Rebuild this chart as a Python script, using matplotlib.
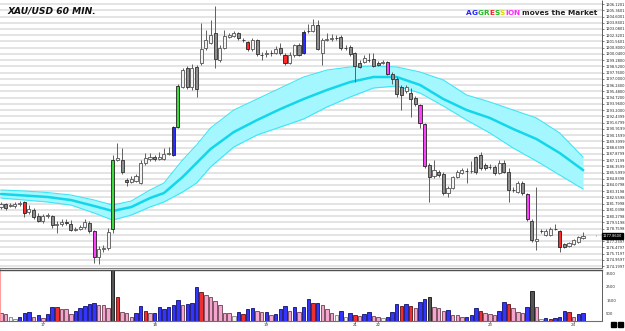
import numpy as np
import matplotlib.pyplot as plt

# hourly XAU/USD candles (open, close, high, low)
opens = [1181.40, 1181.76, 1181.52, 1181.52, 1181.76, 1182.01, 1180.79, 1181.03, 1180.30, 1179.69,
         1180.30, 1180.30, 1179.21, 1179.33, 1179.57, 1179.33, 1178.60, 1178.72, 1178.96, 1179.45,
         1178.47, 1175.31, 1176.28, 1176.40, 1178.72, 1187.12, 1187.12, 1184.69, 1184.44, 1184.56,
         1184.32, 1186.76, 1187.24, 1187.49, 1187.24, 1187.24, 1187.85, 1187.73, 1191.14, 1196.01,
         1198.33, 1196.01, 1198.45, 1198.94, 1200.76, 1201.37, 1202.59, 1199.30, 1200.76, 1202.10,
         1202.22, 1202.59, 1201.74, 1201.49, 1200.64, 1201.74, 1199.91, 1200.03, 1200.15, 1200.15,
         1200.76, 1199.91, 1198.94, 1199.91, 1201.13, 1200.15, 1202.83, 1202.83, 1203.56, 1200.15,
         1201.74, 1201.86, 1201.98, 1202.10, 1200.76, 1200.88, 1200.15, 1198.94, 1199.06, 1199.30,
         1199.42, 1198.94, 1198.94, 1199.06, 1197.60, 1196.99, 1196.01, 1195.53, 1195.28, 1194.67,
         1193.82, 1191.51, 1186.51, 1185.17, 1185.66, 1185.42, 1183.10, 1183.71, 1185.05, 1185.54,
         1185.78, 1185.78, 1187.49, 1187.73, 1186.51, 1186.27, 1186.27, 1185.54, 1186.76, 1185.66,
         1183.47, 1183.22, 1184.32, 1182.98, 1179.69, 1177.26, 1178.47, 1177.99, 1177.99, 1178.72,
         1178.47, 1176.89, 1176.65, 1176.89, 1177.13, 1177.62]
closes = [1181.76, 1181.28, 1181.64, 1181.76, 1181.89, 1180.67, 1181.15, 1180.18, 1179.69, 1180.30,
          1180.42, 1179.21, 1179.33, 1179.57, 1179.45, 1178.60, 1178.72, 1178.96, 1179.57, 1178.47,
          1175.31, 1176.28, 1176.40, 1178.35, 1187.12, 1187.37, 1185.66, 1184.44, 1184.81, 1185.17,
          1186.76, 1187.37, 1187.49, 1187.24, 1187.49, 1187.85, 1187.97, 1191.14, 1196.13, 1198.08,
          1196.01, 1198.33, 1195.77, 1200.64, 1201.74, 1202.35, 1199.42, 1200.76, 1202.22, 1202.35,
          1202.59, 1201.98, 1201.70, 1200.64, 1201.74, 1200.03, 1199.87, 1200.15, 1200.13, 1200.64,
          1200.15, 1198.94, 1199.91, 1201.13, 1199.91, 1202.71, 1202.81, 1203.56, 1200.64, 1201.74,
          1201.86, 1201.98, 1201.96, 1200.76, 1200.74, 1200.03, 1198.57, 1198.45, 1199.55, 1199.28,
          1198.57, 1198.69, 1199.06, 1197.60, 1196.99, 1195.16, 1195.04, 1196.01, 1194.55, 1193.94,
          1191.63, 1186.39, 1185.05, 1185.90, 1185.29, 1183.10, 1183.71, 1185.05, 1185.66, 1185.90,
          1185.76, 1185.80, 1185.66, 1186.15, 1186.15, 1186.25, 1185.54, 1186.76, 1185.66, 1183.47,
          1183.45, 1184.32, 1183.10, 1179.94, 1177.38, 1177.50, 1178.45, 1178.47, 1178.72, 1178.70,
          1176.52, 1176.52, 1177.01, 1177.38, 1177.74, 1177.86]
highs = [1182.01, 1181.89, 1181.89, 1182.01, 1182.13, 1182.13, 1181.64, 1181.28, 1180.67, 1180.55,
         1180.67, 1180.42, 1179.69, 1179.94, 1179.94, 1179.81, 1178.96, 1179.21, 1179.94, 1179.69,
         1178.60, 1176.65, 1176.77, 1178.84, 1187.73, 1189.19, 1188.58, 1184.93, 1185.17, 1185.42,
         1187.12, 1187.97, 1187.97, 1187.73, 1188.10, 1188.58, 1188.71, 1191.26, 1196.38, 1198.33,
         1198.57, 1198.81, 1198.69, 1203.81, 1202.96, 1204.17, 1205.88, 1201.13, 1202.96, 1202.59,
         1202.83, 1202.71, 1201.98, 1201.62, 1201.98, 1201.86, 1200.28, 1200.52, 1200.52, 1201.01,
         1201.37, 1200.15, 1200.28, 1201.25, 1201.37, 1202.96, 1203.69, 1204.30, 1204.17, 1201.98,
         1202.59, 1202.47, 1202.35, 1202.35, 1201.13, 1201.13, 1200.28, 1199.30, 1199.91, 1200.15,
         1200.15, 1199.18, 1199.30, 1199.18, 1197.84, 1197.23, 1196.26, 1196.26, 1195.89, 1194.92,
         1193.94, 1191.63, 1186.76, 1187.12, 1185.90, 1185.66, 1183.96, 1185.17, 1185.90, 1186.15,
         1186.15, 1187.00, 1187.61, 1188.10, 1186.76, 1186.63, 1186.51, 1187.12, 1187.12, 1186.15,
         1183.83, 1184.56, 1184.56, 1183.10, 1179.94, 1183.83, 1178.72, 1178.72, 1178.96, 1179.33,
         1178.60, 1177.01, 1177.13, 1177.50, 1177.86, 1178.35]
lows = [1181.15, 1181.03, 1181.40, 1181.28, 1181.52, 1180.18, 1180.55, 1179.94, 1179.57, 1179.45,
        1180.06, 1178.84, 1178.23, 1179.08, 1179.21, 1178.47, 1178.47, 1178.60, 1178.72, 1178.23,
        1174.58, 1174.46, 1175.92, 1176.16, 1178.23, 1187.00, 1185.42, 1183.96, 1184.32, 1184.44,
        1184.20, 1186.51, 1187.00, 1187.00, 1187.12, 1187.12, 1187.73, 1187.61, 1191.02, 1195.89,
        1195.77, 1195.65, 1194.80, 1198.69, 1200.52, 1201.25, 1198.33, 1199.06, 1200.64, 1201.98,
        1202.10, 1201.74, 1201.49, 1200.40, 1200.40, 1199.79, 1199.30, 1199.67, 1199.79, 1200.03,
        1199.91, 1198.69, 1198.81, 1199.67, 1199.79, 1200.03, 1202.59, 1202.71, 1200.52, 1198.69,
        1201.62, 1201.62, 1201.74, 1200.52, 1200.52, 1199.79, 1196.62, 1198.33, 1198.94, 1199.06,
        1198.45, 1198.57, 1198.81, 1197.48, 1196.38, 1194.80, 1193.21, 1195.28, 1192.36, 1193.70,
        1191.02, 1186.15, 1182.01, 1184.93, 1185.05, 1182.86, 1182.62, 1183.59, 1184.93, 1185.42,
        1184.32, 1185.54, 1185.42, 1185.90, 1185.90, 1186.03, 1185.29, 1185.42, 1185.54, 1182.01,
        1183.22, 1183.10, 1182.86, 1179.69, 1177.13, 1176.16, 1178.23, 1177.86, 1177.86, 1178.60,
        1175.92, 1176.40, 1176.52, 1176.77, 1177.01, 1177.50]

# "aggression" candles painted in colour
special = {5: 'r', 20: 'm', 24: 'g', 37: 'b', 38: 'g', 53: 'r', 61: 'r', 65: 'b',
           83: 'm', 90: 'm', 91: 'm', 113: 'm', 120: 'r'}

volume = [525, 450, 230, 130, 230, 525, 650, 280, 380, 155,
          450, 970, 970, 825, 825, 450, 720, 900, 1050, 1220,
          1270, 1120, 1120, 900, 3800, 1715, 650, 525, 230, 525,
          1070, 720, 525, 525, 970, 850, 970, 1145, 1515, 1145,
          1195, 1270, 2460, 2135, 1890, 1715, 1465, 1145, 525, 525,
          330, 600, 475, 870, 945, 700, 600, 600, 400, 475,
          825, 1070, 720, 970, 600, 1020, 1570, 1315, 1315, 1120,
          870, 575, 380, 700, 230, 575, 400, 350, 475, 600,
          350, 280, 200, 280, 600, 1220, 1095, 1220, 1095, 945,
          1390, 1590, 1760, 970, 900, 700, 775, 400, 380, 230,
          230, 400, 900, 720, 525, 450, 400, 675, 1345, 1240,
          900, 600, 525, 1020, 2210, 970, 100, 150, 130, 200,
          280, 700, 600, 280, 450, 525]
vol_col = ("ppwwbbbpbp" "bbrpppbbbb" "bpppkrpppb" "brpbbbbbbp" "bbbrpppppp"
           "wbrbbppbpb" "bbpbpbbrbp" "ppwbwbrpbb" "ppwbbbrbrp" "bbkpppbppp"
           "bbbrpppbbr" "pppbkpwbrb" "bbrpbb")

# moving average band (sampled every few bars)
band_idx = [0, 5, 10, 15, 20, 24, 28, 32, 35, 39, 42, 45, 50, 55, 60, 65, 70, 75, 80, 85,
            90, 95, 100, 105, 110, 115, 120, 125]
band_up = [1183.47, 1183.35, 1183.16, 1182.86, 1182.25, 1181.64, 1182.13, 1183.47, 1184.32, 1187.12,
           1188.95, 1191.02, 1193.21, 1194.55, 1195.89, 1197.23, 1198.08, 1198.45, 1198.57, 1198.45,
           1197.84, 1196.87, 1195.04, 1194.19, 1193.21, 1192.24, 1190.41, 1187.49]
band_mid = [1182.98, 1182.80, 1182.62, 1182.25, 1181.52, 1180.91, 1181.40, 1182.49, 1183.10, 1185.05,
            1186.76, 1188.46, 1190.53, 1191.99, 1193.33, 1194.55, 1195.65, 1196.62, 1197.23, 1197.23,
            1196.26, 1194.55, 1193.21, 1192.24, 1190.90, 1189.68, 1187.97, 1185.90]
band_lo = [1182.49, 1182.25, 1182.01, 1181.64, 1180.67, 1179.81, 1180.42, 1181.40, 1182.01, 1183.22,
           1184.32, 1186.27, 1188.71, 1190.17, 1191.14, 1192.12, 1193.58, 1194.80, 1195.89, 1196.13,
           1195.28, 1193.70, 1191.99, 1190.41, 1188.58, 1187.00, 1185.29, 1183.59]

price_labels = ["1206.1201", "1205.3601", "1204.6001", "1203.8401", "1203.0801", "1202.3201",
                "1201.5601", "1200.8000", "1200.0400", "1199.2800", "1198.5200", "1197.7600",
                "1197.0000", "1196.2400", "1195.4800", "1194.7200", "1193.9600", "1193.2000",
                "1192.4399", "1191.6799", "1190.9199", "1190.1599", "1189.3999", "1188.6399",
                "1187.8799", "1187.1199", "1186.3599", "1185.5999", "1184.8398", "1184.0798",
                "1183.3198", "1182.5598", "1181.7998", "1181.0398", "1180.2798", "1179.5198",
                "1178.7598", "1177.9998", "1177.2397", "1176.4797", "1175.7197", "1174.9597",
                "1174.1997"]
day_pos = [9, 33, 57, 76, 81, 105, 123]
day_labels = ['17', '18', '19', '21', '22', '23', '24']
vol_ticks = [500, 1500, 2500, 3500]

candle_face = {'r': '#ff2a2a', 'm': '#ff40ff', 'g': '#3ddc3d', 'b': '#2b2bff'}
bar_face = {'b': '#3434ff', 'p': '#f4a6cf', 'r': '#ee3030', 'w': '#f2f2f2', 'k': '#555555'}
bar_edge = {'b': '#10106a', 'p': '#6a4050', 'r': '#5a1010', 'w': '#808080', 'k': '#111111'}

W, H = 625, 331
fig = plt.figure(figsize=(W / 100, H / 100), dpi=100)
ax = fig.add_axes([0, 1 - 268 / H, 602 / W, 268 / H])
axv = fig.add_axes([0, (H - 320.5) / H, 602 / W, 51 / H])

n = len(opens)
x = np.arange(n)
o = np.array(opens)
c = np.array(closes)
last = closes[-1]

# grid
for p in price_labels:
    ax.axhline(float(p), color='#dddddd', lw=1.1, zorder=0)

# band
ax.fill_between(band_idx, band_lo, band_up, color='#a4f7ff', lw=0, zorder=1)
ax.plot(band_idx, band_up, color='#3fe6f5', lw=0.8, zorder=2)
ax.plot(band_idx, band_lo, color='#3fe6f5', lw=0.8, zorder=2)
ax.plot(band_idx, band_mid, color='#12d6ea', lw=1.8, zorder=2)

# candles
faces, edges = [], []
for i in range(n):
    if i in special:
        faces.append(candle_face[special[i]])
        edges.append('#202020')
    elif c[i] >= o[i]:
        faces.append('#f3f3f3')
        edges.append('#555555')
    else:
        faces.append('#8e8e8e')
        edges.append('#303030')
ax.vlines(x, lows, highs, color='#606060', lw=0.7, zorder=3)
ax.bar(x, np.abs(c - o), bottom=np.minimum(o, c), width=0.66, color=faces,
       edgecolor=edges, linewidth=0.6, zorder=4)

ax.set_xlim(-0.21, 129.08)
ax.set_ylim(1173.97, 1206.61)
ax.set_xticks([])
ax.yaxis.tick_right()
ax.set_yticks([float(p) for p in price_labels])
# the slot next to the live price is covered by the price box
ax.set_yticklabels(['' if abs(float(p) - last) < 0.4 else p for p in price_labels])
ax.tick_params(axis='y', labelsize=2.6, length=1.2, width=0.4, pad=1.5,
               colors='#222222')
for s in ['top', 'left']:
    ax.spines[s].set_visible(False)
ax.spines['right'].set_linestyle((0, (1, 1)))
ax.spines['right'].set_linewidth(0.6)
ax.spines['right'].set_color('#444444')
ax.spines['bottom'].set_color('#808080')
ax.spines['bottom'].set_linewidth(0.8)

# current price marker
ax.annotate('', xy=(128.5, last), xytext=(127.3, last),
            arrowprops=dict(arrowstyle='-', color='#444444', lw=0.6))
ax.text(1.0015, last, f'{last:.4f}', transform=ax.get_yaxis_transform(),
        fontsize=2.6, color='white', va='center', ha='left',
        bbox=dict(boxstyle='square,pad=0.25', fc='black', ec='black'))

# volume
axv.bar(x, volume, width=0.74, color=[bar_face[k] for k in vol_col],
        edgecolor=[bar_edge[k] for k in vol_col], linewidth=0.6)
axv.set_xlim(-0.21, 129.08)
axv.set_ylim(0, 3790)
axv.yaxis.tick_right()
axv.set_yticks(vol_ticks)
axv.set_yticklabels([str(v) for v in vol_ticks])
axv.tick_params(axis='y', labelsize=2.8, length=0, pad=3, colors='#333333')
axv.set_xticks(day_pos)
axv.set_xticklabels(day_labels)
axv.tick_params(axis='x', labelsize=2.8, length=1.2, width=0.4, pad=0.8,
                colors='#333333')
axv.spines['top'].set_color('#505050')
axv.spines['top'].set_linewidth(1.0)
axv.spines['bottom'].set_color('#707070')
axv.spines['left'].set_color('#ff8a8a')
axv.spines['left'].set_linewidth(1.2)
axv.spines['right'].set_linestyle((0, (1, 1)))
axv.spines['right'].set_linewidth(0.6)
axv.spines['right'].set_color('#444444')

# titles
fig.text(7 / W, 1 - 11 / H, 'XAU/USD 60 MIN.', fontsize=6.6, fontweight='bold',
         fontstyle='italic', va='center', ha='left', color='#111111')

agg_cols = ['#2222ff', '#2222ff', '#22bb22', '#22bb22', '#ff2222', '#22bb22',
            '#dddd00', '#ff22ff', '#ff22ff', '#ff22ff']
fig.canvas.draw()
r = fig.canvas.get_renderer()
tx = 466 / W
for ch, col in zip('AGGRESSION', agg_cols):
    t = fig.text(tx, 1 - 13 / H, ch, color=col, fontsize=5.3, fontweight='bold',
                 va='center', ha='left')
    tx += t.get_window_extent(r).width / fig.bbox.width
fig.text(tx + 2.5 / W, 1 - 13 / H, 'moves the Market', color='#222222', fontsize=5.3,
         fontweight='bold', va='center', ha='left')

# little squares bottom right
for sx in [611, 618]:
    fig.patches.append(plt.Rectangle((sx / W, 1 - 327 / H), 5 / W, 5 / H,
                                     transform=fig.transFigure, color='black'))

fig.savefig('out.png', dpi=100)
